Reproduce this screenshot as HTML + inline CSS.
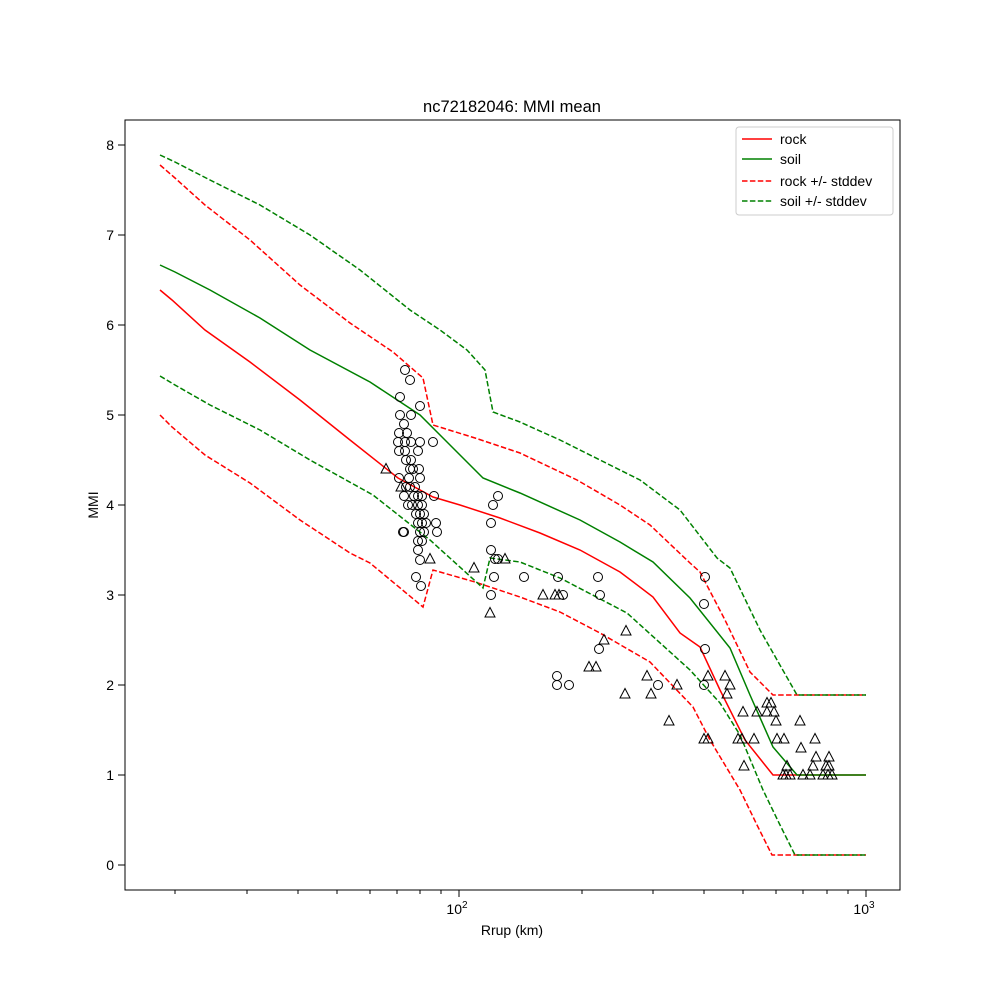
<!DOCTYPE html><html><head><style>body{margin:0;background:#fff}svg{font-family:"Liberation Sans","DejaVu Sans",sans-serif}</style></head><body>
<svg width="1000" height="1000" viewBox="0 0 1000 1000" xmlns="http://www.w3.org/2000/svg">
<rect width="1000" height="1000" fill="#fff"/>
<defs><clipPath id="c"><rect x="125" y="120" width="775" height="770"/></clipPath>
<circle id="o" r="4.5" fill="none" stroke="#000" stroke-width="1"/>
<polygon id="t" points="0,-5.5 -5,4 5,4" fill="none" stroke="#000" stroke-width="1"/>
</defs>
<g clip-path="url(#c)" fill="none" stroke-width="1.5">
<polyline stroke="red" points="160,290 172,300 205,330 250,362 300,400 350,440 398,478 433,497 460,505 500,518 540,533 580,550 620,572 653,597 680,633 700,647 720,690 745,740 773,775 866,775"/>
<polyline stroke="green" points="160,265 175,272 210,290 260,318 310,350 370,382 420,415 450,445 483,478 520,493 580,520 620,542 653,562 690,598 730,648 750,695 773,747 797,775 866,775"/>
<polyline stroke="red" stroke-dasharray="5.5,2.4" points="160,165 175,178 205,205 250,240 300,285 350,323 393,352 423,378 433,425 475,438 520,453 577,480 620,505 650,525 690,563 700,572 725,620 750,672 773,695 866,695"/>
<polyline stroke="red" stroke-dasharray="5.5,2.4" points="160,415 172,427 205,455 250,483 300,520 350,553 370,563 423,607 433,570 475,582 520,597 560,612 600,633 650,662 693,707 710,740 740,790 757,825 772,855 866,855"/>
<polyline stroke="green" stroke-dasharray="5.5,2.4" points="160,155 175,162 210,180 260,205 310,235 360,270 410,310 440,330 467,350 485,370 493,412 520,422 560,440 600,460 640,480 680,510 717,558 730,568 760,630 797,695 866,695"/>
<polyline stroke="green" stroke-dasharray="5.5,2.4" points="160,376 175,385 210,405 260,430 310,460 373,495 430,540 483,588 490,558 520,562 560,578 627,613 690,670 720,703 740,735 763,790 780,825 795,855 866,855"/>
</g>
<g>
<use href="#o" x="405" y="370"/><use href="#o" x="410" y="380"/><use href="#o" x="400" y="397"/><use href="#o" x="420" y="406"/><use href="#o" x="400" y="415"/><use href="#o" x="411" y="415"/><use href="#o" x="404" y="424"/><use href="#o" x="399" y="433"/><use href="#o" x="407" y="433"/><use href="#o" x="411" y="442"/><use href="#o" x="405" y="442"/><use href="#o" x="398" y="442"/><use href="#o" x="420" y="442"/><use href="#o" x="405" y="451"/><use href="#o" x="399" y="451"/><use href="#o" x="411" y="460"/><use href="#o" x="406" y="460"/><use href="#o" x="418" y="451"/><use href="#o" x="433" y="442"/><use href="#o" x="413" y="469"/><use href="#o" x="409" y="478"/><use href="#o" x="399" y="478"/><use href="#o" x="419" y="469"/><use href="#o" x="420" y="478"/><use href="#o" x="406" y="487"/><use href="#o" x="410" y="487"/><use href="#o" x="414" y="496"/><use href="#o" x="404" y="496"/><use href="#o" x="418" y="496"/><use href="#o" x="422" y="496"/><use href="#o" x="412" y="505"/><use href="#o" x="418" y="505"/><use href="#o" x="422" y="505"/><use href="#o" x="408" y="505"/><use href="#o" x="416" y="514"/><use href="#o" x="420" y="514"/><use href="#o" x="424" y="514"/><use href="#o" x="418" y="523"/><use href="#o" x="422" y="523"/><use href="#o" x="426" y="523"/><use href="#o" x="404" y="532"/><use href="#o" x="420" y="532"/><use href="#o" x="424" y="532"/><use href="#o" x="418" y="541"/><use href="#o" x="422" y="541"/><use href="#o" x="418" y="550"/><use href="#o" x="420" y="560"/><use href="#o" x="416" y="577"/><use href="#o" x="421" y="586"/><use href="#o" x="434" y="496"/><use href="#o" x="436" y="523"/><use href="#o" x="437" y="532"/><use href="#o" x="403" y="532"/><use href="#o" x="410" y="469"/><use href="#o" x="415" y="487"/>
<use href="#o" x="498" y="496"/><use href="#o" x="493" y="505"/><use href="#o" x="491" y="523"/><use href="#o" x="491" y="550"/><use href="#o" x="495" y="559"/><use href="#o" x="491" y="595"/><use href="#o" x="494" y="577"/><use href="#o" x="498" y="559"/><use href="#o" x="524" y="577"/><use href="#o" x="558" y="577"/><use href="#o" x="563" y="595"/><use href="#o" x="557" y="676"/><use href="#o" x="557" y="685"/><use href="#o" x="569" y="685"/><use href="#o" x="598" y="577"/><use href="#o" x="600" y="595"/><use href="#o" x="599" y="649"/><use href="#o" x="658" y="685"/><use href="#o" x="705" y="577"/><use href="#o" x="704" y="604"/><use href="#o" x="705" y="649"/><use href="#o" x="704" y="685"/>
<use href="#t" x="386" y="469"/><use href="#t" x="401" y="487"/><use href="#t" x="430" y="559"/><use href="#t" x="474" y="568"/><use href="#t" x="490" y="613"/><use href="#t" x="505" y="559"/><use href="#t" x="543" y="595"/><use href="#t" x="555" y="595"/><use href="#t" x="559" y="595"/><use href="#t" x="626" y="631"/><use href="#t" x="604" y="640"/><use href="#t" x="589" y="667"/><use href="#t" x="596" y="667"/><use href="#t" x="625" y="694"/><use href="#t" x="647" y="676"/><use href="#t" x="651" y="694"/><use href="#t" x="669" y="721"/><use href="#t" x="677" y="685"/><use href="#t" x="704" y="739"/><use href="#t" x="708" y="739"/><use href="#t" x="708" y="676"/><use href="#t" x="725" y="676"/><use href="#t" x="730" y="685"/><use href="#t" x="727" y="694"/><use href="#t" x="738" y="739"/><use href="#t" x="742" y="739"/><use href="#t" x="743" y="712"/><use href="#t" x="744" y="766"/><use href="#t" x="754" y="739"/><use href="#t" x="757" y="712"/><use href="#t" x="767" y="712"/><use href="#t" x="771" y="703"/><use href="#t" x="774" y="712"/><use href="#t" x="777" y="739"/><use href="#t" x="776" y="721"/><use href="#t" x="767" y="703"/><use href="#t" x="784" y="739"/><use href="#t" x="787" y="766"/><use href="#t" x="801" y="748"/><use href="#t" x="813" y="766"/><use href="#t" x="816" y="757"/><use href="#t" x="826" y="766"/><use href="#t" x="829" y="757"/><use href="#t" x="829" y="766"/><use href="#t" x="800" y="721"/><use href="#t" x="815" y="739"/><use href="#t" x="783" y="775"/><use href="#t" x="786" y="775"/><use href="#t" x="790" y="775"/><use href="#t" x="803" y="775"/><use href="#t" x="810" y="775"/><use href="#t" x="823" y="775"/><use href="#t" x="828" y="775"/><use href="#t" x="832" y="775"/>
</g>
<rect x="125" y="120" width="775" height="770" fill="none" stroke="#000" stroke-width="1"/>
<g stroke="#000" stroke-width="1">
<line x1="459" y1="890" x2="459" y2="897"/><line x1="866" y1="890" x2="866" y2="897"/>
<line x1="175" y1="890" x2="175" y2="894"/><line x1="247" y1="890" x2="247" y2="894"/><line x1="298" y1="890" x2="298" y2="894"/><line x1="337" y1="890" x2="337" y2="894"/><line x1="370" y1="890" x2="370" y2="894"/><line x1="397" y1="890" x2="397" y2="894"/><line x1="420" y1="890" x2="420" y2="894"/><line x1="441" y1="890" x2="441" y2="894"/>
<line x1="582" y1="890" x2="582" y2="894"/><line x1="653" y1="890" x2="653" y2="894"/><line x1="704" y1="890" x2="704" y2="894"/><line x1="743" y1="890" x2="743" y2="894"/><line x1="776" y1="890" x2="776" y2="894"/><line x1="803" y1="890" x2="803" y2="894"/><line x1="827" y1="890" x2="827" y2="894"/><line x1="848" y1="890" x2="848" y2="894"/>
<line x1="118" y1="145" x2="125" y2="145"/><line x1="118" y1="235" x2="125" y2="235"/><line x1="118" y1="325" x2="125" y2="325"/><line x1="118" y1="415" x2="125" y2="415"/><line x1="118" y1="505" x2="125" y2="505"/><line x1="118" y1="595" x2="125" y2="595"/><line x1="118" y1="685" x2="125" y2="685"/><line x1="118" y1="775" x2="125" y2="775"/><line x1="118" y1="865" x2="125" y2="865"/>
</g>
<g font-size="14" text-anchor="end">
<text x="114" y="150">8</text><text x="114" y="240">7</text><text x="114" y="330">6</text><text x="114" y="420">5</text><text x="114" y="510">4</text><text x="114" y="600">3</text><text x="114" y="690">2</text><text x="114" y="780">1</text><text x="114" y="870">0</text>
</g>
<g font-size="14" text-anchor="middle">
<text x="457" y="914">10<tspan font-size="10" dy="-6">2</tspan></text>
<text x="864" y="914">10<tspan font-size="10" dy="-6">3</tspan></text>
<text x="512" y="935">Rrup (km)</text>
<text x="512" y="112" font-size="16.5">nc72182046: MMI mean</text>
<text x="98" y="505" transform="rotate(-90 98 505)">MMI</text>
</g>
<rect x="736" y="127" width="157" height="88" rx="3" fill="#fff" fill-opacity="0.8" stroke="#ccc"/>
<g stroke-width="1.5"><line x1="742" y1="139" x2="772" y2="139" stroke="red"/><line x1="742" y1="159" x2="772" y2="159" stroke="green"/><line x1="742" y1="181" x2="772" y2="181" stroke="red" stroke-dasharray="5.5,2.4"/><line x1="742" y1="201" x2="772" y2="201" stroke="green" stroke-dasharray="5.5,2.4"/></g>
<g font-size="14"><text x="780" y="144">rock</text><text x="780" y="164">soil</text><text x="780" y="186">rock +/- stddev</text><text x="780" y="206">soil +/- stddev</text></g>
</svg></body></html>
